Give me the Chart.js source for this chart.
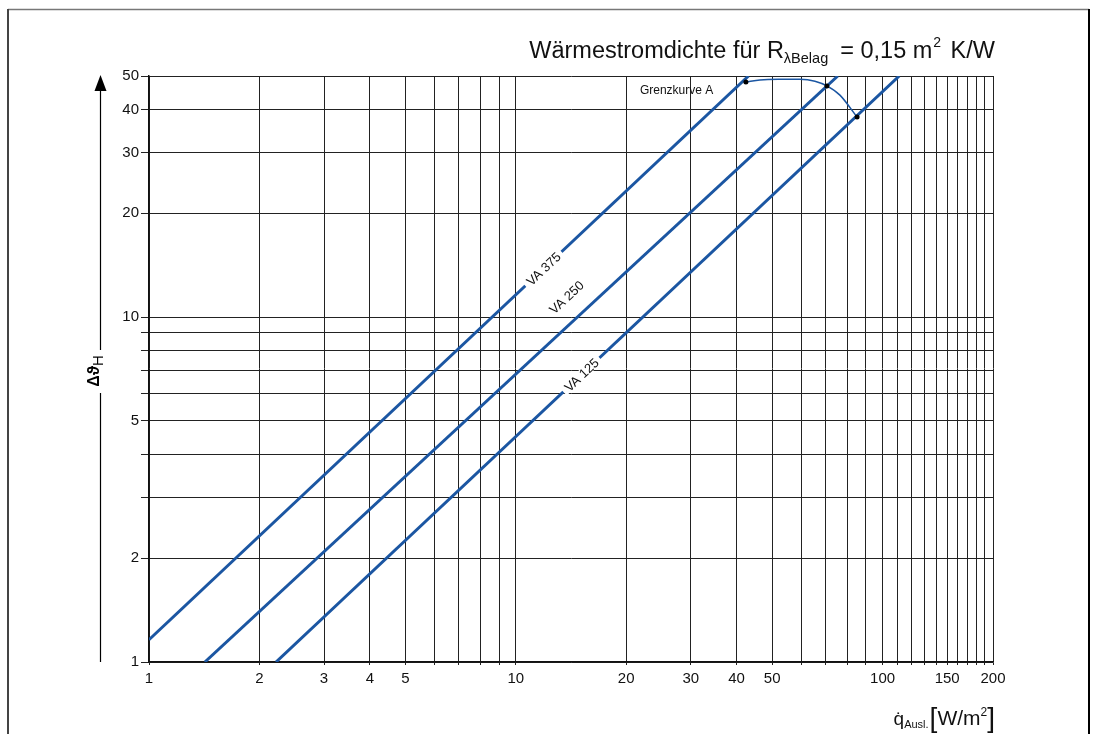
<!DOCTYPE html>
<html><head><meta charset="utf-8">
<script src="https://cdn.jsdelivr.net/npm/chart.js@4.4.0/dist/chart.umd.min.js"></script>
<style>html,body{margin:0;padding:0;background:#fff}canvas{display:block}</style>
</head><body>
<canvas id="c" width="1097" height="734"></canvas>
<script>
// ---- data ----
const xGrid = [1,2,3,4,5,6,7,8,9,10,20,30,40,50,60,70,80,90,100,110,120,130,140,150,160,170,180,190,200];
const xLabels = [1,2,3,4,5,10,20,30,40,50,100,150,200];
const yGrid = [1,2,3,4,5,6,7,8,9,10,20,30,40,50];
const yLabels = [1,2,5,10,20,30,40,50];

const va375X = [1, 43.1];   const va375Y = [1.16, 50];
const va250X = [1.42, 75.5]; const va250Y = [1, 50];
const va125X = [2.22, 111];  const va125Y = [1, 50];
const grenzX = [42.4, 46.3, 52, 59.5, 65.4, 70.5, 76.5, 85.2];
const grenzY = [48.0, 48.7, 48.9, 48.9, 48.3, 46.8, 44.0, 38.0];
const grenzDots = [0, 5, 7];
const seriesNames = ['VA 375', 'VA 250', 'VA 125'];
const labelAtX = [11.9, 15.1, 15.1];
const grenzName = 'Grenzkurve A';
const grenzLabelX = 21.8, grenzLabelY = 45.2;

const BLUE = '#1b56a2';
const FONT = '"Liberation Sans", Arial, "DejaVu Sans", sans-serif';
function pts(xs, ys){ return xs.map((x,i)=>({x:x, y:ys[i]})); }
const series = [[va375X,va375Y],[va250X,va250Y],[va125X,va125Y]];

function drawRich(ctx, parts, x, y, align){
  let total = 0;
  parts.forEach(p=>{ ctx.font = p.f; p.w = ctx.measureText(p.t).width; total += p.w + (p.gap||0); });
  let cx = align==='right' ? x - total : (align==='center' ? x - total/2 : x);
  ctx.textBaseline = 'alphabetic'; ctx.textAlign = 'left';
  parts.forEach(p=>{ ctx.font = p.f; ctx.fillText(p.t, cx, y + (p.dy||0)); cx += p.w + (p.gap||0); });
}

const deco = {
  id:'deco',
  afterDraw(chart){
    const ctx = chart.ctx, xs = chart.scales.x, ys = chart.scales.y;
    ctx.save();
    // frame
    ctx.lineWidth = 1.5; ctx.strokeStyle = '#777';
    ctx.beginPath(); ctx.moveTo(8, 9.5); ctx.lineTo(1089, 9.5); ctx.stroke();
    ctx.strokeStyle = '#444'; ctx.lineWidth = 2;
    ctx.beginPath(); ctx.moveTo(8, 9); ctx.lineTo(8, 734); ctx.stroke();
    ctx.strokeStyle = '#000';
    ctx.beginPath(); ctx.moveTo(1089, 9); ctx.lineTo(1089, 734); ctx.stroke();

    ctx.fillStyle = '#111';
    // title
    drawRich(ctx, [
      {t:'Wärmestromdichte für R', f:'23.5px '+FONT},
      {t:'λBelag', f:'14.5px '+FONT, dy:5, gap:12},
      {t:'= 0,15 m', f:'23.5px '+FONT, gap:1},
      {t:'2', f:'14px '+FONT, dy:-11, gap:3},
      {t:' K/W', f:'23.5px '+FONT}
    ], 995, 58, 'right');

    // x title
    drawRich(ctx, [
      {t:'q̇', f:'19px '+FONT},
      {t:'Ausl.', f:'11px '+FONT, dy:3, gap:1},
      {t:'[', f:'28px '+FONT, dy:2},
      {t:'W/m', f:'21px '+FONT},
      {t:'2', f:'12px '+FONT, dy:-9},
      {t:']', f:'28px '+FONT, dy:2}
    ], 995, 725, 'right');

    // y axis arrow + title
    ctx.strokeStyle = '#000'; ctx.lineWidth = 1.2;
    ctx.beginPath(); ctx.moveTo(100.5, 88); ctx.lineTo(100.5, 350);
    ctx.moveTo(100.5, 393); ctx.lineTo(100.5, 662); ctx.stroke();
    ctx.fillStyle = '#000';
    ctx.beginPath(); ctx.moveTo(100.5, 75); ctx.lineTo(94.5, 91); ctx.lineTo(106.5, 91); ctx.closePath(); ctx.fill();
    ctx.save(); ctx.translate(99, 371); ctx.rotate(-Math.PI/2);
    drawRich(ctx, [
      {t:'Δϑ', f:'bold 16px '+FONT},
      {t:'H', f:'15px '+FONT, dy:4}
    ], 0, 0, 'center');
    ctx.restore();

    // series labels
    ctx.font = '13px ' + FONT;
    series.forEach((s, i)=>{
      const p0x = xs.getPixelForValue(s[0][0]), p0y = ys.getPixelForValue(s[1][0]);
      const p1x = xs.getPixelForValue(s[0][1]), p1y = ys.getPixelForValue(s[1][1]);
      const ang = Math.atan2(p1y - p0y, p1x - p0x);
      const lx = xs.getPixelForValue(labelAtX[i]);
      const t = (lx - p0x) / (p1x - p0x);
      let ly = p0y + t * (p1y - p0y);
      let cx = lx, cy = ly;
      const gap = (i !== 1);
      if (!gap){ const off = 22; cx += off * Math.sin(ang); cy -= off * Math.cos(ang); }
      ctx.save(); ctx.translate(cx, cy); ctx.rotate(ang);
      const w = ctx.measureText(seriesNames[i]).width;
      if (gap){ ctx.fillStyle = '#fff'; ctx.fillRect(-w/2 - 4, -5, w + 8, 10); }
      ctx.fillStyle = '#111'; ctx.textAlign = 'center'; ctx.textBaseline = 'middle';
      ctx.fillText(seriesNames[i], 0, 1);
      ctx.restore();
    });

    // grenzkurve label
    ctx.font = '12px ' + FONT; ctx.fillStyle = '#111'; ctx.textAlign = 'left'; ctx.textBaseline = 'middle';
    ctx.fillText(grenzName, xs.getPixelForValue(grenzLabelX), ys.getPixelForValue(grenzLabelY));
    ctx.restore();
  }
};

const lineDs = (xsA, ysA) => ({data: pts(xsA, ysA), borderColor: BLUE, borderWidth: 3, pointRadius: 0, fill: false});

new Chart(document.getElementById('c'), {
  type: 'line',
  data: { datasets: [
    {data: pts(grenzX, grenzY), borderColor: BLUE, borderWidth: 1.5, cubicInterpolationMode: 'monotone',
     pointRadius: grenzX.map((_,i)=>grenzDots.includes(i) ? 2.5 : 0), pointBackgroundColor: '#000', pointBorderWidth: 0, fill:false},
    lineDs(va375X, va375Y),
    lineDs(va250X, va250Y),
    lineDs(va125X, va125Y)
  ]},
  options: {
    responsive: false, maintainAspectRatio: false, animation: false, devicePixelRatio: 1,
    layout: { padding: {left: 0, top: 76, right: 104, bottom: 0} },
    plugins: { legend: {display: false}, tooltip: {enabled: false}, title: {display: false} },
    scales: {
      x: {
        type: 'logarithmic', min: 1, max: 200,
        afterBuildTicks: s => { s.ticks = xGrid.map(v=>({value:v})); },
        afterFit: s => { s.height = 72; },
        ticks: { autoSkip: false, maxRotation: 0, minRotation: 0, padding: 5, color: '#111',
                 font: {family: FONT, size: 15},
                 callback: v => xLabels.includes(v) ? String(v) : '' },
        grid: { color: '#222', lineWidth: 1, tickLength: 3 },
        border: { color: '#111', width: 1.5 }
      },
      y: {
        type: 'logarithmic', min: 1, max: 50,
        afterBuildTicks: s => { s.ticks = yGrid.map(v=>({value:v})); },
        afterFit: s => { s.width = 149; },
        ticks: { autoSkip: false, padding: 2, color: '#111',
                 font: {family: FONT, size: 15},
                 callback: v => yLabels.includes(v) ? String(v) : '' },
        grid: { color: '#222', lineWidth: 1, tickLength: 8 },
        border: { color: '#111', width: 1.5 }
      }
    }
  },
  plugins: [deco]
});
</script>
</body></html>
